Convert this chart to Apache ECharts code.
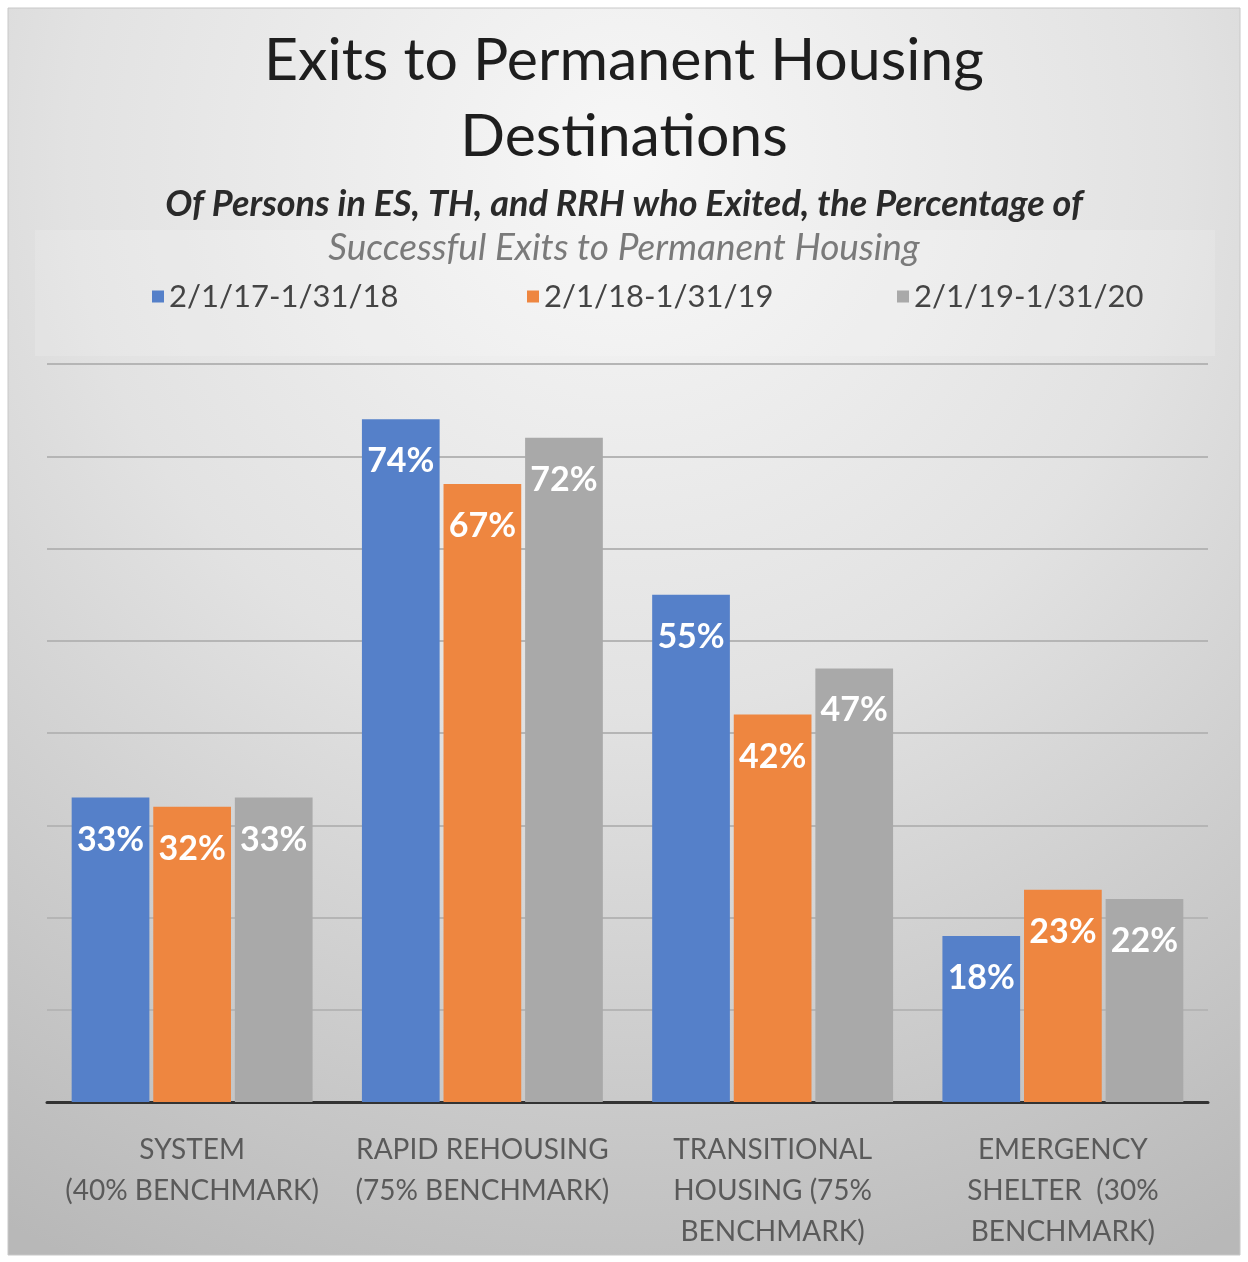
<!DOCTYPE html>
<html><head><meta charset="utf-8">
<script src="https://cdn.jsdelivr.net/npm/echarts@6/dist/echarts.min.js"></script>
<style>html,body{margin:0;padding:0;background:#fff}#c{width:1248px;height:1262px}</style>
</head><body><div id="c"></div>
<script>
const categories = ['SYSTEM\n(40% BENCHMARK)', 'RAPID REHOUSING\n(75% BENCHMARK)', 'TRANSITIONAL\nHOUSING (75%\nBENCHMARK)', 'EMERGENCY\nSHELTER  (30%\nBENCHMARK)'];
const seriesNames = ['2/1/17-1/31/18', '2/1/18-1/31/19', '2/1/19-1/31/20'];
const period2017 = [33, 74, 55, 18];
const period2018 = [32, 67, 42, 23];
const period2019 = [33, 72, 47, 22];
const yMin = 0, yMax = 80, yStep = 10;

const colors = ['#5580c9', '#ee8640', '#a9a9a9'];
const FONT = 'Lato';
const chart = echarts.init(document.getElementById('c'), null, {renderer: 'canvas'});

function mkSeries(name, data, color) {
  return {
    name: name, type: 'bar', data: data,
    barGap: '5%', barCategoryGap: '17%',
    itemStyle: {color: color},
    label: {
      show: true, position: 'insideTop', distance: 25,
      formatter: '{c}%', color: '#fff', fontFamily: FONT, fontWeight: 'bold', fontSize: 34
    }
  };
}

const legendTextStyle = {color: '#444', fontSize: 31, fontFamily: FONT};
chart.setOption({
  animation: false,
  backgroundColor: '#fff',
  graphic: [
    {type: 'rect', z: -10, silent: true, shape: {x: 8, y: 8, width: 1232, height: 1247},
     style: {fill: new echarts.graphic.RadialGradient(0.5, 0.12, 1.0, [
       {offset: 0, color: '#f7f7f7'}, {offset: 0.45, color: '#e2e2e2'}, {offset: 1, color: '#b8b8b8'}]),
       stroke: '#c8c8c8', lineWidth: 1}},
    {type: 'rect', z: -9, silent: true, shape: {x: 35, y: 230, width: 1180, height: 126},
     style: {fill: 'rgba(255,255,255,0.15)'}}
  ],
  title: [
    {text: 'Exits to Permanent Housing\nDestinations', left: 'center', top: 18,
     textStyle: {fontFamily: FONT, fontSize: 59, fontWeight: 'normal', color: '#1e1e1e', lineHeight: 76}},
    {text: 'Of Persons in ES, TH, and RRH who Exited, the Percentage of', left: 'center', top: 181,
     textStyle: {fontFamily: FONT, fontSize: 36, fontWeight: 'bold', fontStyle: 'italic', color: '#2a2a2a'}},
    {text: 'Successful Exits to Permanent Housing', left: 'center', top: 225,
     textStyle: {fontFamily: FONT, fontSize: 37, fontWeight: 'normal', fontStyle: 'italic', color: '#7a7a7a'}}
  ],
  legend: [
    {data: [seriesNames[0]], left: 147, top: 276, itemWidth: 12, itemHeight: 12, icon: 'rect', textStyle: legendTextStyle},
    {data: [seriesNames[1]], left: 522, top: 276, itemWidth: 12, itemHeight: 12, icon: 'rect', textStyle: legendTextStyle},
    {data: [seriesNames[2]], left: 892, top: 276, itemWidth: 12, itemHeight: 12, icon: 'rect', textStyle: legendTextStyle}
  ],
  grid: {left: 47, right: 40, top: 364, bottom: 160, containLabel: false},
  xAxis: {
    type: 'category', data: categories,
    axisLine: {lineStyle: {color: '#333', width: 3}},
    axisTick: {show: false},
    axisLabel: {color: '#5a5a5a', fontFamily: FONT, fontSize: 28, lineHeight: 41, margin: 27, interval: 0}
  },
  yAxis: {
    type: 'value', min: yMin, max: yMax, interval: yStep,
    axisLabel: {show: false}, axisLine: {show: false}, axisTick: {show: false},
    splitLine: {lineStyle: {color: '#b5b5b5', width: 2}}
  },
  series: [
    mkSeries(seriesNames[0], period2017, colors[0]),
    mkSeries(seriesNames[1], period2018, colors[1]),
    mkSeries(seriesNames[2], period2019, colors[2])
  ]
});
</script></body></html>
